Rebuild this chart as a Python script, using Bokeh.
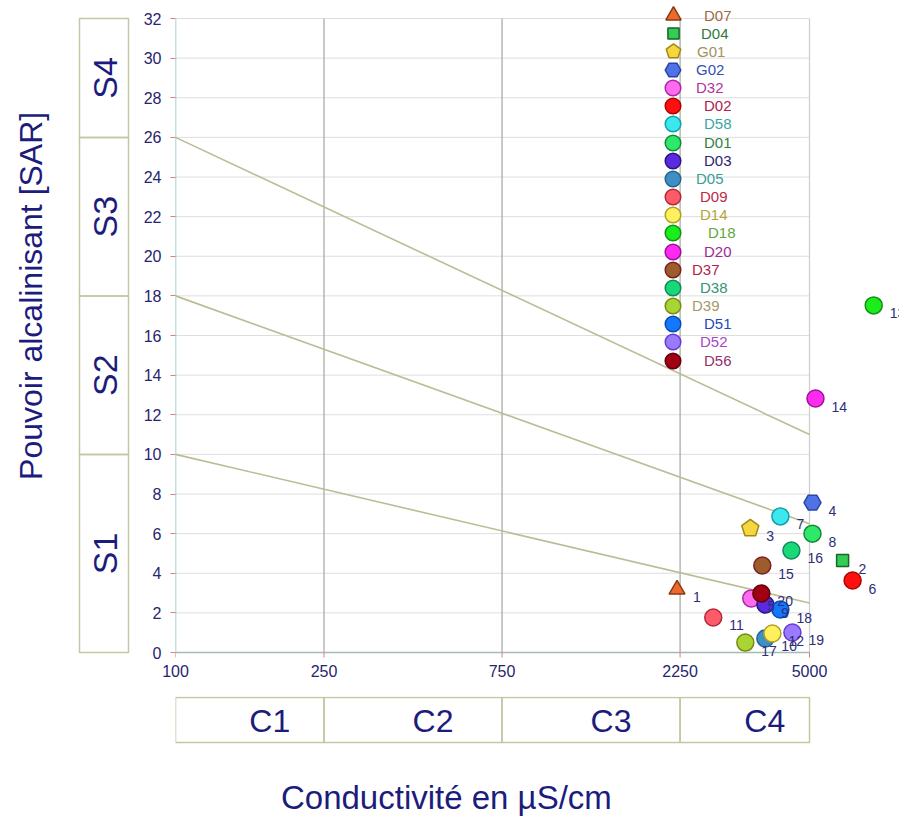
import math
from bokeh.plotting import figure
from bokeh.layouts import gridplot
from bokeh.models import (Range1d, FixedTicker, NumeralTickFormatter, ColumnDataSource,
                          LabelSet, Legend, LegendItem)
from bokeh.core.properties import value
from bokeh.embed import file_html
from bokeh.resources import INLINE

FONT = "Liberation Sans"

# ---------------- data ----------------
names = ["D07", "D04", "G01", "G02", "D32", "D02", "D58", "D01", "D03", "D05",
         "D09", "D14", "D18", "D20", "D37", "D38", "D39", "D51", "D52", "D56"]
numbers = ["1", "2", "3", "4", "5", "6", "7", "8", "9", "10",
           "11", "12", "13", "14", "15", "16", "17", "18", "19", "20"]
conductivity = [2208, 6133, 3470, 5093, 3491, 6523, 4178, 5093, 3808, 3808,
                2761, 3977, 7430, 5188, 3737, 4472, 3365, 4178, 4500, 3715]
sar = [3.18, 4.64, 6.26, 7.57, 2.73, 3.63, 6.87, 6.00, 2.42, 0.71,
       1.77, 0.96, 17.52, 12.82, 4.39, 5.15, 0.50, 2.17, 1.01, 2.98]
markers = ["triangle", "square", "pentagon", "hex", "circle", "circle", "circle", "circle", "circle", "circle",
           "circle", "circle", "circle", "circle", "circle", "circle", "circle", "circle", "circle", "circle"]
fill_colors = ["#ee6a2a", "#33cc55", "#f5d640", "#4f72e6", "#ff6af0", "#ff1010", "#3ae8ee", "#2ee86a", "#5a2ae0", "#3f8fc4",
               "#ff5a6a", "#fff060", "#1aee1a", "#ff2af0", "#9c5c2c", "#18d878", "#a8d434", "#1478ff", "#9a7aff", "#a00012"]
line_colors = ["#8a3a12", "#17662a", "#a08a10", "#2a44a8", "#a42aa4", "#b00000", "#10a0a8", "#158a3a", "#2a1580", "#22668a",
               "#b02a3a", "#b0a020", "#149014", "#9a129a", "#7a2020", "#10885a", "#7a8a12", "#0a4ab0", "#6a3acc", "#600008"]
label_colors = ["#a06a48", "#2f7a40", "#a09458", "#3550b0", "#b034a4", "#b02050", "#36a6a6", "#357f45", "#2e2470", "#36a092",
                "#c02845", "#b4a636", "#62a836", "#a02892", "#b02545", "#349475", "#a89868", "#2446c4", "#a848c8", "#94306a"]
legend_label_dx = [31, 28, 24, 24, 24, 32, 32, 32, 32, 24,
                   28, 28, 36, 32, 20, 28, 19, 32, 28, 32]

x_ticks = [100, 250, 750, 2250, 5000]
y_ticks = [0, 2, 4, 6, 8, 10, 12, 14, 16, 18, 20, 22, 24, 26, 28, 30, 32]

# salinity-hazard classes (SAR) and conductivity classes
s_names = ["S1", "S2", "S3", "S4"]
s_low = [0, 10, 18, 26]
s_high = [10, 18, 26, 32]
c_names = ["C1", "C2", "C3", "C4"]
c_low = [100, 250, 750, 2250]
c_high = [250, 750, 2250, 5000]

# class boundary lines (SAR at EC=100 and at EC=5000)
line_start_sar = [10, 18, 26]
line_end_sar = [2.5, 6.5, 11]

NAVY = "#1c1c7c"
TICKNAVY = "#26266e"
TICKRED = "#e07a7a"

# ---------------- geometry (pixels) ----------------
PX_PER_SAR = 634 / 32          # 0 -> 652 px, 32 -> 18 px
Y_START = -12 / PX_PER_SAR     # frame bottom 12 px below SAR = 0
Y_END = 652 / PX_PER_SAR       # frame top at the page top
X_END = 10 ** (2 + 724 * (math.log10(5000) - 2) / 634)
MAIN_H = 696
BOTTOM = MAIN_H - 664

p = figure(width=769, height=MAIN_H, x_axis_type="log",
           x_range=Range1d(100, X_END), y_range=Range1d(Y_START, Y_END),
           output_backend="svg", toolbar_location=None,
           min_border_left=45, min_border_right=0, min_border_top=0, min_border_bottom=BOTTOM)
p.outline_line_color = None
p.xgrid.visible = False
p.ygrid.visible = False

# grid lines
for yv in y_ticks[1:]:
    p.segment(x0=[x_ticks[0]], y0=[yv], x1=[x_ticks[-1]], y1=[yv], line_color="#dedede", line_width=1)
for xv in x_ticks[1:-1]:
    p.segment(x0=[xv], y0=[y_ticks[0]], x1=[xv], y1=[y_ticks[-1]], line_color="#a2a69a", line_width=1.2)
p.segment(x0=[x_ticks[-1]], y0=[y_ticks[0]], x1=[x_ticks[-1]], y1=[y_ticks[-1]], line_color="#cccccc", line_width=1.2)
# axis lines
p.segment(x0=[x_ticks[0]], y0=[0], x1=[x_ticks[-1]], y1=[0], line_color="#a4bab4", line_width=1.5)
p.segment(x0=[x_ticks[0]], y0=[0], x1=[x_ticks[0]], y1=[y_ticks[-1]], line_color="#84c8c0", line_width=1.5)
# x tick marks hanging 5 px below SAR = 0
p.segment(x0=x_ticks, y0=[0] * len(x_ticks), x1=x_ticks, y1=[-5 / PX_PER_SAR] * len(x_ticks),
          line_color=TICKRED, line_width=1)

# class boundary lines
for a0, b0 in zip(line_start_sar, line_end_sar):
    p.line(x=[x_ticks[0], x_ticks[-1]], y=[a0, b0], line_color="#bcbc96", line_width=1.6)

# axes
p.xaxis.ticker = FixedTicker(ticks=x_ticks)
p.xaxis.formatter = NumeralTickFormatter(format="0")
p.yaxis.ticker = FixedTicker(ticks=y_ticks)
for ax in (p.xaxis, p.yaxis):
    ax.axis_line_color = None
    ax.major_tick_line_color = TICKRED
    ax.major_tick_in = 0
    ax.major_tick_out = 5
    ax.minor_tick_line_color = None
    ax.major_label_text_font = FONT
    ax.major_label_text_font_size = "16px"
    ax.major_label_text_color = TICKNAVY
p.xaxis.major_tick_line_color = None
p.xaxis.major_tick_out = 0
p.xaxis.major_label_standoff = 0
p.yaxis.major_label_standoff = 9

# points + legend
for i, nm in enumerate(names):
    mk = markers[i]
    if mk == "pentagon" and hasattr(p, "ngon"):
        r = p.ngon(x=[conductivity[i]], y=[sar[i]], radius=9, radius_units="screen", n=5,
                   angle=0, fill_color=fill_colors[i], line_color=line_colors[i], line_width=1.5)
        leg_size = 15
    else:
        mk2 = "diamond" if mk == "pentagon" else mk
        size = {"square": 12, "triangle": 16}.get(mk2, 17)
        r = p.scatter(x=[conductivity[i]], y=[sar[i]], marker=mk2, size=size,
                      fill_color=fill_colors[i], line_color=line_colors[i], line_width=1.5)
        leg_size = {"square": 11, "triangle": 15}.get(mk2, 15.5)
    gw = int(round(leg_size / 0.4))
    cx = 673
    cy = 15 + 18.16 * i
    leg = Legend(items=[LegendItem(label=nm, renderers=[r])],
                 location=(int(round(cx - gw / 2 - 175)), int(round(664 - (cy + gw / 2)))),
                 glyph_width=gw, glyph_height=gw, label_height=gw,
                 label_standoff=int(round(legend_label_dx[i] - gw / 2)),
                 padding=0, margin=0, spacing=0,
                 border_line_alpha=0, background_fill_alpha=0,
                 label_text_color=label_colors[i], label_text_font=FONT,
                 label_text_font_size="15px")
    p.add_layout(leg)

src = ColumnDataSource(dict(x=conductivity, y=sar, t=numbers))
p.add_layout(LabelSet(x="x", y="y", text="t", source=src, x_offset=16, y_offset=-8,
                      text_font=value(FONT), text_font_size="14px", text_color="#2e2e78",
                      text_baseline="middle", text_align="left"))

# ---------------- left strip (S classes) ----------------
a = figure(width=130, height=MAIN_H, x_range=Range1d(0, 130), y_range=p.y_range,
           output_backend="svg", toolbar_location=None,
           x_axis_location=None, y_axis_location=None,
           min_border_left=0, min_border_right=0, min_border_top=0, min_border_bottom=BOTTOM)
a.outline_line_color = None
a.xgrid.visible = False
a.ygrid.visible = False
a.quad(left=79, right=128, bottom=s_low, top=s_high, fill_color=None,
       line_color="#c6c6a4", line_width=1.5)
a.text(x=[104] * 4, y=[(l + h) / 2 for l, h in zip(s_low, s_high)], text=s_names,
       angle=math.pi / 2, text_align="center", text_baseline="middle",
       text_font=value(FONT), text_font_size="34px", text_color=NAVY)
a.text(x=[30], y=[18.0], text=["Pouvoir alcalinisant [SAR]"], angle=math.pi / 2,
       text_align="center", text_baseline="middle",
       text_font=value(FONT), text_font_size="32px", text_color=NAVY)

# ---------------- bottom strip (C classes) ----------------
B_H = 816 - MAIN_H
b = figure(width=769, height=B_H, x_axis_type="log", x_range=p.x_range, y_range=Range1d(816, MAIN_H),
           output_backend="svg", toolbar_location=None,
           x_axis_location=None, y_axis_location=None,
           min_border_left=45, min_border_right=0, min_border_top=0, min_border_bottom=0)
b.outline_line_color = None
b.xgrid.visible = False
b.ygrid.visible = False
b.quad(left=c_low, right=c_high, top=697, bottom=742, fill_color=None,
       line_color="#c6c6a4", line_width=1.5)
b.text(x=[math.sqrt(l * h) for l, h in zip(c_low, c_high)], y=[720] * 4, text=c_names,
       x_offset=20, text_align="center", text_baseline="middle",
       text_font=value(FONT), text_font_size="32px", text_color=NAVY)
b.text(x=[532], y=[797], text=["Conductivité en µS/cm"], text_align="center", text_baseline="middle",
       text_font=value(FONT), text_font_size="33px", text_color=NAVY)

grid = gridplot([[a, p], [None, b]], toolbar_location=None)

with open("out.html", "w", encoding="utf-8") as f:
    f.write(file_html(grid, INLINE))
